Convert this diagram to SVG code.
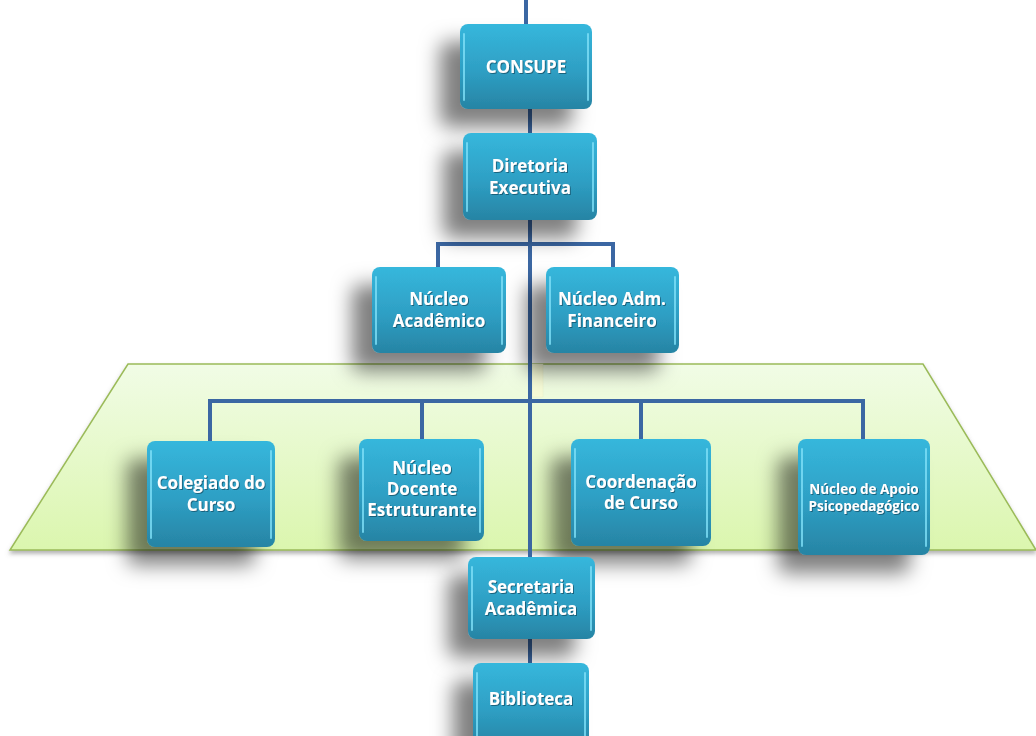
<svg xmlns="http://www.w3.org/2000/svg" width="1036" height="736" viewBox="0 0 1036 736">
<defs>
<linearGradient id="box" x1="0" y1="0" x2="0" y2="1">
<stop offset="0" stop-color="#36b7dc"/>
<stop offset="0.55" stop-color="#2e9fc4"/>
<stop offset="1" stop-color="#2784a4"/>
</linearGradient>
<linearGradient id="trap" x1="0" y1="0" x2="0" y2="1">
<stop offset="0" stop-color="#f1fce6"/>
<stop offset="1" stop-color="#dbf6ae"/>
</linearGradient>
<filter id="sh" x="-50%" y="-50%" width="200%" height="200%">
<feDropShadow dx="-20" dy="18" stdDeviation="10" flood-color="#000" flood-opacity="0.5"/>
</filter>
<filter id="tsh" x="-40%" y="-40%" width="180%" height="180%">
<feDropShadow dx="0" dy="3" stdDeviation="2" flood-color="#666" flood-opacity="0.5"/>
</filter>
<filter id="txs"><feDropShadow dx="1" dy="1" stdDeviation="0.6" flood-color="#0b4a60" flood-opacity="0.7"/></filter>
</defs>
<style>
.b{fill:url(#box);filter:url(#sh)}
.hl{fill:none;stroke:#7fe0f8;stroke-width:2;stroke-linecap:round;opacity:0.8}
.t{font-family:"Open Sans","Noto Sans",sans-serif;font-weight:bold;font-size:17px;fill:#fff;text-anchor:middle;filter:url(#txs)}
.s{font-size:13.5px}
.c{fill:none;stroke:#3b67a3;stroke-width:4}
</style>
<rect width="1036" height="736" fill="#fff"/>
<g id="plane">
<polygon points="128,364 923,364 1036,550 10,550" fill="url(#trap)" stroke="#9bbb59" stroke-width="1.5" filter="url(#tsh)"/>
<rect x="532" y="364" width="11" height="33" fill="#f6fbd6" stroke="#e8edc8" stroke-width="0.5"/>
</g>
<g id="connectors">
<path class="c" d="M526,0 V24"/>
<path class="c" d="M530,109 V133"/>
<path class="c" d="M530,220 V557"/>
<path class="c" d="M438,268 V244 H613 V268"/>
<path class="c" d="M210,442 V401 H863 V440"/>
<path class="c" d="M422,440 V401"/>
<path class="c" d="M641,440 V401"/>
<path class="c" d="M530,639 V663"/>
</g>
<g id="consupe">
<rect class="b" x="460" y="24" width="132" height="85" rx="8"/>
<path class="hl" d="M464,34 V100 M588,34 V100"/>
<text class="t" x="526" y="73">CONSUPE</text>
</g>
<g id="diretoria">
<rect class="b" x="463" y="133" width="134" height="87" rx="8"/>
<path class="hl" d="M467,143 V211 M593,143 V211"/>
<text class="t" x="530" y="172">Diretoria</text>
<text class="t" x="530" y="194">Executiva</text>
</g>
<g id="nucleo-academico">
<rect class="b" x="372" y="267" width="134" height="86" rx="8"/>
<path class="hl" d="M376,277 V344 M502,277 V344"/>
<text class="t" x="439" y="305">Núcleo</text>
<text class="t" x="439" y="327">Acadêmico</text>
</g>
<g id="nucleo-adm">
<rect class="b" x="546" y="267" width="133" height="86" rx="8"/>
<path class="hl" d="M550,277 V344 M675,277 V344"/>
<text class="t" x="612" y="305">Núcleo Adm.</text>
<text class="t" x="612" y="327">Financeiro</text>
</g>
<g id="colegiado">
<rect class="b" x="147" y="441" width="128" height="106" rx="8"/>
<path class="hl" d="M151,451 V538 M271,451 V538"/>
<text class="t" x="211" y="489">Colegiado do</text>
<text class="t" x="211" y="511">Curso</text>
</g>
<g id="nde">
<rect class="b" x="359" y="439" width="125" height="102" rx="8"/>
<path class="hl" d="M363,449 V532 M480,449 V532"/>
<text class="t" x="422" y="474">Núcleo</text>
<text class="t" x="422" y="495">Docente</text>
<text class="t" x="422" y="516">Estruturante</text>
</g>
<g id="coordenacao">
<rect class="b" x="571" y="439" width="140" height="107" rx="8"/>
<path class="hl" d="M575,449 V537 M707,449 V537"/>
<text class="t" x="641" y="488">Coordenação</text>
<text class="t" x="641" y="509">de Curso</text>
</g>
<g id="apoio">
<rect class="b" x="798" y="439" width="132" height="116" rx="8"/>
<path class="hl" d="M802,449 V546 M926,449 V546"/>
<text class="t s" x="864" y="494">Núcleo de Apoio</text>
<text class="t s" x="864" y="511">Psicopedagógico</text>
</g>
<g id="secretaria">
<rect class="b" x="468" y="557" width="127" height="82" rx="8"/>
<path class="hl" d="M472,567 V630 M591,567 V630"/>
<text class="t" x="531" y="593">Secretaria</text>
<text class="t" x="531" y="615">Acadêmica</text>
</g>
<g id="biblioteca">
<rect class="b" x="473" y="663" width="116" height="85" rx="8"/>
<path class="hl" d="M477,673 V740 M585,673 V740"/>
<text class="t" x="531" y="705">Biblioteca</text>
</g>
</svg>
